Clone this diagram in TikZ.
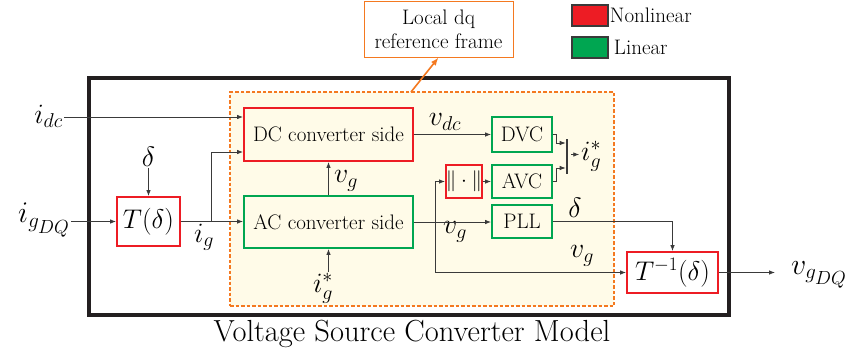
\RequirePackage{fix-cm}
\documentclass[tikz,border=0pt]{standalone}
\usepackage{fontspec}
\usetikzlibrary{arrows.meta,calc}
\DeclareMathSizes{28}{28}{20}{18}
\DeclareMathSizes{27}{27}{19}{17}
\DeclareMathSizes{30}{30}{21}{19}
\definecolor{nlred}{HTML}{ED1C24}
\definecolor{lingreen}{HTML}{00A651}
\definecolor{frameorange}{HTML}{F47920}
\definecolor{bgyellow}{HTML}{FFFBE8}
\definecolor{linegray}{HTML}{3A3A3A}
\definecolor{outerblack}{HTML}{231F20}
\begin{document}
\begin{tikzpicture}[x=1pt,y=-1pt,
  nlbox/.style={draw=nlred, line width=1.8pt, inner sep=0pt},
  linbox/.style={draw=lingreen, line width=1.8pt, inner sep=0pt},
  txt/.style={font=\fontsize{21}{24}\selectfont},
  bigmath/.style={font=\fontsize{27}{30}\selectfont},
  lbl/.style={font=\fontsize{28}{30}\selectfont, inner sep=1pt},
  lblbig/.style={font=\fontsize{30}{32}\selectfont, inner sep=1pt},
  arr/.style={draw=linegray, line width=0.8pt, -{Latex[length=6pt,width=4.5pt]}},
  orarr/.style={draw=frameorange, line width=1.6pt, -{Latex[length=8pt,width=6pt]}},
  legbox/.style={draw=linegray, line width=1.5pt, minimum width=36, minimum height=21, inner sep=0pt}
]
\useasboundingbox (0,0) rectangle (851,360);
\fill[white] (0,0) rectangle (851,360);

% outer model frame
\draw[outerblack, line width=4.5pt] (89,78) rectangle (729,315);
% local dq frame
\node[draw=frameorange, line width=1.8pt, dash pattern=on 3.5pt off 2pt, fill=bgyellow,
      minimum width=384, minimum height=214, inner sep=0pt] (frame) at (422,199) {};

% blocks
\node[nlbox, txt, minimum width=169, minimum height=53] (DC) at (328.5,134.5) {DC converter side};
\node[linbox, txt, minimum width=169, minimum height=52] (AC) at (328.5,222) {AC converter side};
\node[nlbox, bigmath, minimum width=63, minimum height=49] (T) at (148.5,221.5) {$T(\delta)$};
\node[linbox, txt, minimum width=60, minimum height=35] (DVC) at (522,134.5) {DVC};
\node[linbox, txt, minimum width=60, minimum height=33] (AVC) at (522,181.5) {AVC};
\node[linbox, txt, minimum width=60, minimum height=33] (PLL) at (522,221.5) {PLL};
\node[nlbox, txt, minimum width=34, minimum height=33] (norm) at (464,181.5) {$\|\cdot\|$};
\node[nlbox, bigmath, minimum width=91, minimum height=41] (Tinv) at (672.5,272.5) {$T^{-1}(\delta)$};
\node[fill=linegray, minimum width=2.2, minimum height=35, inner sep=0pt] (bar) at (567,156.5) {};

% top annotation box
\node[draw=frameorange, line width=1pt, txt, minimum width=149, minimum height=56, inner sep=0pt, align=center] (local) at (438.5,29) {Local dq\\reference frame};
\coordinate (fa) at (411,92);
\draw[orarr] (fa) -- (local.south);

% legend
\node[legbox, fill=nlred] (legnl) at (590,15.5) {};
\node[txt, anchor=west, inner sep=1pt] (legnltxt) at (legnl.east) {Nonlinear};
\node[legbox, fill=lingreen] (legl) at (590,47.5) {};
\node[txt, anchor=west, inner sep=1pt] (legltxt) at ($(legl.east)+(4,0)$) {Linear};

% labels
\node[lbl, anchor=east] (idc) at (64,116) {$i_{dc}$};
\node[lblbig, anchor=east] (igdq) at (71,220) {$i_{g_{DQ}}$};
\node[lbl] (delta1) at (148.5,157) {$\delta$};
\node[lbl] (ig) at (204,237) {$i_g$};
\node[lbl] (vg1) at (346,181) {$v_g$};
\node[lbl] (igs1) at (323,288) {$i_g^*$};
\node[lbl] (vdc) at (445,122) {$v_{dc}$};
\node[lbl] (vg2) at (455,232) {$v_g$};
\node[lbl] (vg3) at (582,256) {$v_g$};
\node[lbl] (delta2) at (575,208) {$\delta$};
\node[lbl, anchor=west] (igs2) at (580,156) {$i_g^*$};
\node[lblbig] (vout) at (819,275) {$v_{g_{DQ}}$};
\node[font=\fontsize{30.5}{33}\selectfont] (title) at (412,334) {Voltage Source Converter Model};

% connectors
\draw[arr] (idc.east |- 0,117) -- ($(DC.west)+(0,-17.5)$);
\draw[arr] (igdq.east |- T.west) -- (T.west);
\draw[arr] (delta1.south) -- (T.north);
\draw[arr] (T.east) -- (T.east -| AC.west);
\coordinate (br) at (211,221.5);
\draw[arr] (br) |- ($(DC.west)+(0,17.5)$);
\draw[arr] (AC.north) -- (DC.south);
\draw[arr] (igs1.north -| AC.south) -- (AC.south);
\draw[arr] (DC.east) -- (DVC.west);
\draw[arr] (AC.east) -- (AC.east -| PLL.west);
\coordinate (jv) at (435,222);
\draw[arr] (jv) |- (norm.west);
\draw[arr] (jv) |- (Tinv.west);
\draw[arr] (norm.east) -- (AVC.west);
\draw[arr] (DVC.east) -- ++(3,0) |- ($(bar.west)+(0,-13.5)$);
\draw[arr] (AVC.east) -- ++(3,0) |- ($(bar.west)+(0,11.5)$);
\coordinate (igsin) at ($(bar.east)+(11,-2)$);
\draw[arr] ($(bar.east)+(3,-2)$) -- (igsin);
\draw[arr] (PLL.east) -| (Tinv.north);
\coordinate (outend) at (775,272.5);
\draw[arr] (Tinv.east) -- (outend);
\end{tikzpicture}
\end{document}
